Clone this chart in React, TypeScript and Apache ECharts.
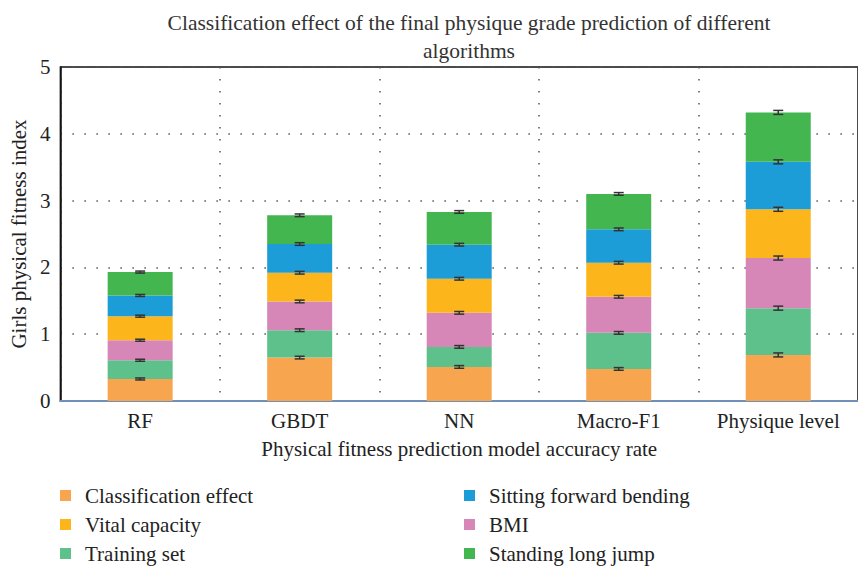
import React, { useEffect, useRef } from "react";
import * as echarts from "echarts";

const categories = ["RF", "GBDT", "NN", "Macro-F1", "Physique level"];
const seriesNames = [
  "Classification effect",
  "Training set",
  "BMI",
  "Vital capacity",
  "Sitting forward bending",
  "Standing long jump",
];
const classificationEffect = [0.33, 0.65, 0.51, 0.48, 0.69];
const trainingSet = [0.28, 0.41, 0.3, 0.54, 0.7];
const bmi = [0.3, 0.43, 0.51, 0.54, 0.75];
const vitalCapacity = [0.36, 0.43, 0.51, 0.51, 0.73];
const sittingForwardBending = [0.31, 0.43, 0.51, 0.5, 0.71];
const standingLongJump = [0.35, 0.43, 0.49, 0.53, 0.74];
const errorValues = [0.015, 0.02, 0.02, 0.02, 0.03];
const yTicks = [0, 1, 2, 3, 4, 5];

const colors = ["#F8A54F", "#5EC08A", "#D687B8", "#FDB51C", "#1D9DD7", "#44B650"];
const FONT = "Liberation Serif";

export default function App() {
  const ref = useRef<HTMLDivElement>(null);
  useEffect(() => {
    if (!ref.current) return;
    const chart = echarts.init(ref.current, undefined, { renderer: "svg" });
    const values = [
      classificationEffect,
      trainingSet,
      bmi,
      vitalCapacity,
      sittingForwardBending,
      standingLongJump,
    ];
    const errData: number[][] = [];
    const cum = categories.map(() => 0);
    values.forEach((arr) => {
      arr.forEach((v, i) => {
        cum[i] += v;
        errData.push([i, cum[i], errorValues[i]]);
      });
    });

    const barSeries = values.map((arr, k) => ({
      name: seriesNames[k],
      type: "bar",
      stack: "total",
      data: arr,
      barWidth: 65,
      itemStyle: { color: colors[k] },
      z: 2,
    }));

    const legendText = {
      fontFamily: FONT,
      fontSize: 21,
      lineHeight: 21,
      color: "#222",
      padding: [0, 0, 0, 9],
    };
    const legendBase = {
      orient: "vertical",
      top: 485,
      height: 90,
      padding: 0,
      itemWidth: 11,
      itemHeight: 11,
      itemGap: 8,
      icon: "rect",
      textStyle: legendText,
    };

    chart.setOption({
      animation: false,
      textStyle: { fontFamily: FONT },
      title: {
        text: "Classification effect of the final physique grade prediction of different\nalgorithms",
        left: 464,
        textAlign: "center",
        top: 4,
        textStyle: {
          fontFamily: FONT,
          fontSize: 21.5,
          fontWeight: "normal",
          color: "#333",
          lineHeight: 28,
        },
      },
      legend: [
        {
          ...legendBase,
          data: ["Classification effect", "Vital capacity", "Training set"],
          left: 60,
        },
        {
          ...legendBase,
          data: ["Sitting forward bending", "BMI", "Standing long jump"],
          left: 464,
        },
      ],
      grid: {
        left: 60,
        top: 67,
        width: 807,
        height: 334,
        show: true,
        borderColor: "#111",
        borderWidth: 1.5,
      },
      xAxis: {
        type: "category",
        data: categories,
        name: "Physical fitness prediction model accuracy rate",
        nameLocation: "middle",
        nameGap: 37,
        nameTextStyle: { fontFamily: FONT, fontSize: 21, color: "#222" },
        axisLine: { show: true, lineStyle: { color: "#7090B8", width: 2 } },
        axisTick: { show: false },
        axisLabel: { interval: 0, fontFamily: FONT, fontSize: 21, color: "#222", margin: 9 },
        splitLine: {
          show: true,
          interval: 0,
          lineStyle: { color: "#555", type: [1.5, 10.5], width: 1.5 },
        },
      },
      yAxis: {
        type: "value",
        min: yTicks[0],
        max: yTicks[yTicks.length - 1],
        interval: 1,
        name: "Girls physical fitness index",
        nameLocation: "middle",
        nameGap: 30,
        nameTextStyle: { fontFamily: FONT, fontSize: 21, color: "#222" },
        axisLine: { show: true, lineStyle: { color: "#111", width: 1.5 } },
        axisTick: { show: false },
        axisLabel: { fontFamily: FONT, fontSize: 21, color: "#222", margin: 10 },
        splitLine: {
          show: true,
          lineStyle: { color: "#555", type: [1.5, 10.5], width: 1.5 },
        },
      },
      series: [
        ...barSeries,
        {
          type: "custom",
          name: "err",
          data: errData,
          z: 5,
          renderItem: (params: any, api: any) => {
            const i = api.value(0);
            const top = api.value(1);
            const e = api.value(2);
            const hi = api.coord([i, top + e]);
            const lo = api.coord([i, top - e]);
            const hw = 5;
            const style = { stroke: "#333", lineWidth: 1.5 };
            return {
              type: "group",
              children: [
                { type: "line", shape: { x1: hi[0], y1: hi[1], x2: lo[0], y2: lo[1] }, style },
                { type: "line", shape: { x1: hi[0] - hw, y1: hi[1], x2: hi[0] + hw, y2: hi[1] }, style },
                { type: "line", shape: { x1: lo[0] - hw, y1: lo[1], x2: lo[0] + hw, y2: lo[1] }, style },
              ],
            };
          },
        },
      ],
    });
    return () => chart.dispose();
  }, []);
  return <div ref={ref} style={{ width: 858, height: 569, position: "absolute", left: 0, top: 0 }} />;
}
